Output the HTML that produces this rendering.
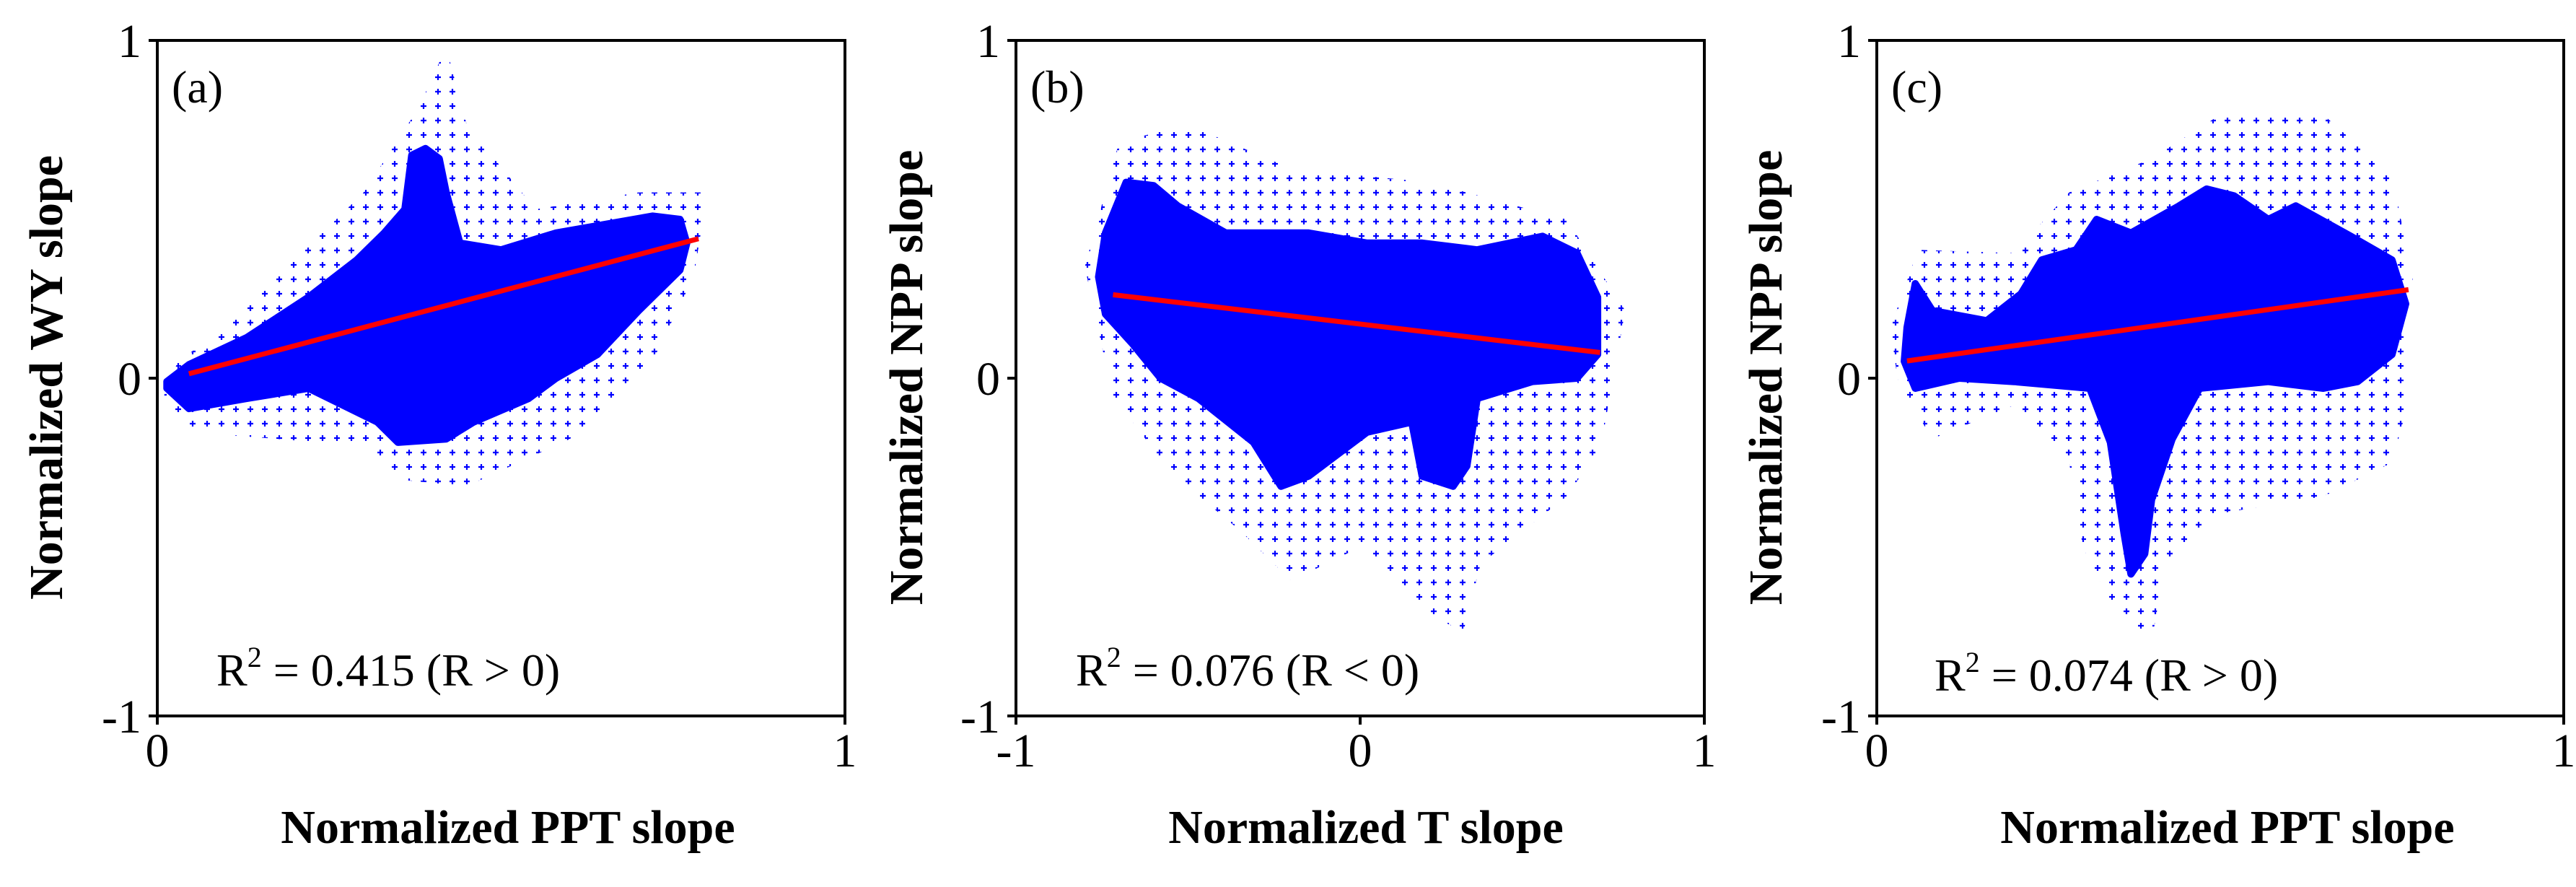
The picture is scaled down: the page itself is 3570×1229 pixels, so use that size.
<!DOCTYPE html>
<html><head><meta charset="utf-8"><style>
html,body{margin:0;padding:0;background:#fff;}
svg{display:block;}
text{font-family:"Liberation Serif",serif;fill:#000;}
</style></head><body>
<svg id="fig" width="3570" height="1229" viewBox="0 0 3570 1229" xmlns="http://www.w3.org/2000/svg">
<defs>
<pattern id="dots" width="20" height="20" patternUnits="userSpaceOnUse">
<path d="M7 3 V11 M3 7 H11" stroke="#0000ff" stroke-width="2.2"/>
</pattern>
</defs>
</svg>
<script>
// Panel A data (x: PPT slope 0..1, y: WY slope -1..1)
const aCore = [[.014,-.03],[.046,-.09],[.13,-.06],[.22,-.03],[.32,-.13],[.35,-.19],[.42,-.18],[.46,-.13],[.54,-.06],[.58,0],[.64,.07],[.70,.20],[.76,.32],[.77,.40],[.76,.47],[.72,.48],[.58,.43],[.50,.38],[.44,.40],[.42,.55],[.41,.65],[.39,.68],[.37,.66],[.36,.50],[.33,.43],[.29,.35],[.22,.24],[.13,.12],[.046,.04],[.014,-.01]];
const aEnv = [[.01,-.05],[.05,-.16],[.3,-.2],[.35,-.3],[.45,-.32],[.6,-.18],[.72,.05],[.78,.3],[.8,.55],[.7,.55],[.55,.5],[.45,.75],[.42,.98],[.38,.8],[.3,.55],[.2,.35],[.1,.15],[.03,.05]];
const aFit = [[.046,.013],[.787,.413]];
// Panel B data (x: T slope -1..1, y: NPP slope)
const bCore = [[-.74,.43],[-.68,.58],[-.60,.57],[-.53,.51],[-.39,.43],[-.15,.43],[.02,.40],[.18,.40],[.34,.38],[.53,.42],[.63,.37],[.69,.24],[.69,.07],[.63,0],[.5,-.01],[.34,-.06],[.31,-.26],[.27,-.32],[.18,-.29],[.15,-.13],[.02,-.16],[-.15,-.29],[-.23,-.32],[-.31,-.19],[-.47,-.06],[-.58,0],[-.66,.1],[-.74,.19],[-.76,.30]];
const bEnv = [[-.8,.33],[-.7,.7],[-.5,.75],[-.2,.62],[.2,.58],[.6,.47],[.77,.2],[.7,-.2],[.6,-.35],[.35,-.55],[.3,-.75],[.2,-.7],[0,-.5],[-.2,-.6],[-.35,-.45],[-.55,-.28],[-.72,-.05]];
const bFit = [[-.718,.247],[.697,.076]];
// Panel C data (x: PPT slope 0..1, y: NPP slope)
const cCore = [[.044,.15],[.056,.28],[.081,.20],[.16,.17],[.21,.25],[.24,.35],[.29,.38],[.32,.47],[.37,.43],[.44,.51],[.48,.56],[.52,.54],[.57,.47],[.61,.51],[.69,.42],[.75,.35],[.77,.22],[.75,.07],[.70,-.01],[.65,-.03],[.57,-.01],[.47,-.03],[.43,-.18],[.40,-.36],[.39,-.52],[.37,-.58],[.36,-.46],[.34,-.19],[.31,-.03],[.20,-.01],[.12,0],[.056,-.03],[.04,.05]];
const cEnv = [[.02,.15],[.06,.38],[.2,.37],[.28,.55],[.4,.65],[.5,.78],[.65,.78],[.75,.6],[.78,.3],[.77,-.1],[.75,-.25],[.65,-.35],[.5,-.4],[.42,-.55],[.4,-.78],[.35,-.7],[.3,-.5],[.28,-.25],[.2,-.08],[.08,-.18],[.03,0]];
const cFit = [[.044,.051],[.774,.262]];
const yTicks = [-1,0,1];
const xTicksA = [0,1];
const xTicksB = [-1,0,1];

const NS="http://www.w3.org/2000/svg";
const svg=document.getElementById('fig');
function mk(tag,attrs,parent){const e=document.createElementNS(NS,tag);for(const k in attrs)e.setAttribute(k,attrs[k]);(parent||svg).appendChild(e);return e;}

const panels=[
 {id:'a',L:218,R:1171,x0:0,x1:1,core:aCore,env:aEnv,fit:aFit,xt:xTicksA,label:'(a)',ytitle:'Normalized WY slope',xtitle:'Normalized PPT slope',ytx:62,xtx:704,r2:'0.415 (R > 0)',r2x:300,r2y:950},
 {id:'b',L:1408,R:2362,x0:-1,x1:1,core:bCore,env:bEnv,fit:bFit,xt:xTicksB,label:'(b)',ytitle:'Normalized NPP slope',xtitle:'Normalized T slope',ytx:1254,xtx:1893,r2:'0.076 (R < 0)',r2x:1491,r2y:950},
 {id:'c',L:2601,R:3553,x0:0,x1:1,core:cCore,env:cEnv,fit:cFit,xt:xTicksA,label:'(c)',ytitle:'Normalized NPP slope',xtitle:'Normalized PPT slope',ytx:2445,xtx:3087,r2:'0.074 (R > 0)',r2x:2681,r2y:957}
];
const T=56,B=992;
panels.forEach(p=>{
 const g=mk('g',{});
 
 
 const X=v=>p.L+(v-p.x0)/(p.x1-p.x0)*(p.R-p.L);
 const Y=v=>B-(v+1)/2*(B-T);
 const pts=a=>a.map(q=>X(q[0]).toFixed(1)+','+Y(q[1]).toFixed(1)).join(' ');
 const env=mk('polygon',{points:pts(p.env),fill:'url(#dots)'},g);
 
 
 const core=mk('polygon',{points:pts(p.core),fill:'#0000ff',stroke:'#0000ff','stroke-width':10,'stroke-linejoin':'round'},g);
 
 
 const fit=mk('line',{x1:X(p.fit[0][0]),y1:Y(p.fit[0][1]),x2:X(p.fit[1][0]),y2:Y(p.fit[1][1]),stroke:'#ff0000','stroke-width':7},g);
 
 
 const fr=mk('rect',{x:p.L,y:T,width:p.R-p.L,height:B-T,fill:'none',stroke:'#000','stroke-width':4},g);
 
 
 yTicks.forEach(v=>{
  mk('line',{x1:p.L-12,x2:p.L,y1:Y(v),y2:Y(v),stroke:'#000','stroke-width':4},g);
  const t=mk('text',{x:p.L-22,y:Y(v)+23,'text-anchor':'end','font-size':66},g);
  t.textContent=v;  
 });
 p.xt.forEach(v=>{
  mk('line',{x1:X(v),x2:X(v),y1:B,y2:B+12,stroke:'#000','stroke-width':4},g);
  const t=mk('text',{x:X(v),y:1062,'text-anchor':'middle','font-size':66},g);
  t.textContent=v;  
 });
 const lb=mk('text',{x:p.L+20,y:142,'font-size':64},g);
 lb.textContent=p.label;  
 const r=mk('text',{x:p.r2x,y:p.r2y,'font-size':64},g);
 r.innerHTML='R<tspan dy="-26" font-size="40">2</tspan><tspan dy="26"> = '+p.r2.replace('<','&lt;').replace('>','&gt;')+'</tspan>';
  
 const xt=mk('text',{x:p.xtx,y:1168,'text-anchor':'middle','font-size':66,'font-weight':'bold'},g);
 xt.textContent=p.xtitle;  
 const yt=mk('text',{x:0,y:0,'text-anchor':'middle','font-size':66,'font-weight':'bold',transform:'translate('+(p.ytx+24)+',523) rotate(-90)'},g);
 yt.textContent=p.ytitle;  
});
</script>
</body></html>
